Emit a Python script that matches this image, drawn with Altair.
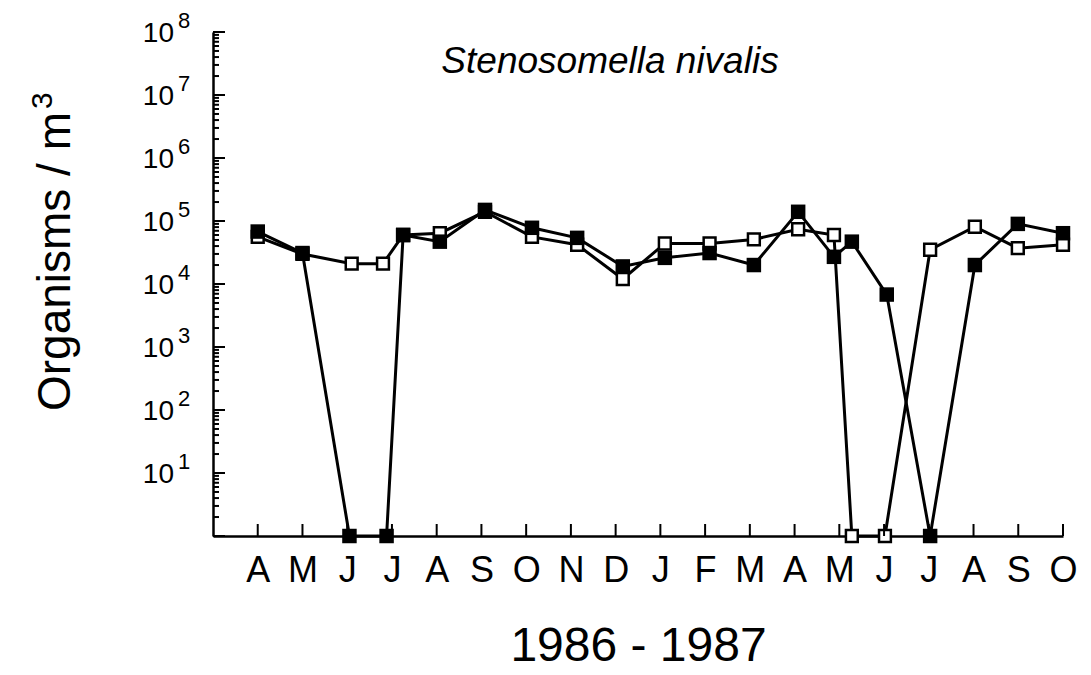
import altair as alt
import pandas as pd

FONT = "Liberation Sans"

# month tick labels (April 1986 .. October 1987), tick index 0..18
months = ["A", "M", "J", "J", "A", "S", "O", "N", "D", "J", "F", "M",
          "A", "M", "J", "J", "A", "S", "O"]

# filled squares series (month index, organisms / m3 ; 0 = none found)
filled_t = [0.0, 1.0, 2.05, 2.88, 3.25, 4.07, 5.08, 6.13, 7.14, 8.16, 9.1,
            10.1, 11.09, 12.08, 12.88, 13.28, 14.06, 15.03, 16.03, 16.99, 18.0]
filled_n = [68000, 31000, 0, 0, 60000, 47000, 150000, 78000, 54000, 19000, 26000,
            31000, 20000, 140000, 27000, 47000, 6800, 0, 20000, 90000, 64000]

# open squares series
open_t = [0.0, 1.0, 2.1, 2.8, 3.25, 4.07, 5.08, 6.13, 7.14, 8.16, 9.1,
          10.1, 11.09, 12.08, 12.88, 13.28, 14.02, 15.03, 16.03, 16.99, 18.0]
open_n = [56000, 30000, 21000, 21000, 60000, 64000, 140000, 56000, 42000, 12000, 44000,
          44000, 51000, 74000, 60000, 0, 0, 35000, 81000, 37000, 42000]

exponents = [1, 2, 3, 4, 5, 6, 7, 8]
superscripts = ["1", "2", "3", "4", "5", "6", "7", "8"]

df_f = pd.DataFrame({"t": filled_t, "n": filled_n})
df_o = pd.DataFrame({"t": open_t, "n": open_n})

# axis tick structure
major_ticks = [10 ** e for e in range(0, 9)]
minor_ticks = [m * 10 ** e for e in range(0, 8) for m in range(2, 10)]
df_major = pd.DataFrame({"v": major_ticks})
df_minor = pd.DataFrame({"v": minor_ticks})
df_xt = pd.DataFrame({"t": list(range(len(months)))})
df_lab = pd.DataFrame({"v": [10 ** e for e in exponents], "s": superscripts})

label_expr = "[" + ",".join("'" + m + "'" for m in months) + "][round(datum.value)]"

x_enc = alt.X(
    "t:Q",
    scale=alt.Scale(domain=[-1, 18], nice=False, zero=False),
    axis=alt.Axis(
        values=list(range(len(months))), labelExpr=label_expr, ticks=False, grid=False,
        domainColor="black", domainWidth=2.5, labelFont=FONT, labelFontSize=36,
        labelColor="black", labelPadding=17, labelFlush=False, labelOverlap=False,
        title="1986 - 1987", titleFont=FONT, titleFontSize=48, titleFontWeight="normal",
        titleColor="black", titlePadding=34,
    ),
)
y_enc = alt.Y(
    "v:Q",
    scale=alt.Scale(type="log", domain=[1, 1e8], nice=False),
    axis=alt.Axis(labels=False, ticks=False, grid=False, title=None,
                  domainColor="black", domainWidth=2.5),
)

def series(df):
    return alt.Chart(df).transform_calculate(v="max(datum.n, 1)")

line_o = series(df_o).mark_line(color="black", strokeWidth=3).encode(x=x_enc, y=y_enc)
line_f = series(df_f).mark_line(color="black", strokeWidth=3).encode(x=x_enc, y=y_enc)
pts_o = series(df_o).mark_point(shape="square", filled=True, fill="white", stroke="black",
                                strokeWidth=2.5, size=140, opacity=1).encode(x=x_enc, y=y_enc)
pts_f = series(df_f).mark_point(shape="square", filled=True, color="black",
                                size=210, opacity=1).encode(x=x_enc, y=y_enc)

ymaj = alt.Chart(df_major).mark_rule(color="black", strokeWidth=2).encode(
    y=y_enc, x=alt.value(0), x2=alt.value(12))
ymin = alt.Chart(df_minor).mark_rule(color="black", strokeWidth=2).encode(
    y=y_enc, x=alt.value(0), x2=alt.value(6))
xt = alt.Chart(df_xt).mark_rule(color="black", strokeWidth=2).encode(
    x=x_enc, y=alt.value(504), y2=alt.value(492))

lab10 = alt.Chart(df_lab).mark_text(
    align="right", baseline="middle", dy=2, font=FONT, fontSize=28, color="black"
).encode(y=y_enc, x=alt.value(-39), text=alt.value("10"))
labexp = alt.Chart(df_lab).mark_text(
    align="left", baseline="middle", dy=-11, font=FONT, fontSize=22, color="black"
).encode(y=y_enc, x=alt.value(-35), text="s:N")

one = alt.Data(values=[{"a": 1}])
species = alt.Chart(one).mark_text(
    align="center", baseline="middle", font=FONT, fontSize=37, fontStyle="italic", color="black"
).encode(x=alt.value(397), y=alt.value(30), text=alt.value("Stenosomella nivalis"))
ytitle = alt.Chart(one).mark_text(
    align="right", baseline="alphabetic", angle=270, font=FONT, fontSize=46, color="black"
).encode(x=alt.value(-143), y=alt.value(80), text=alt.value("Organisms / m"))
ysup = alt.Chart(one).mark_text(
    align="left", baseline="alphabetic", angle=270, font=FONT, fontSize=30, color="black"
).encode(x=alt.value(-161), y=alt.value(77), text=alt.value("3"))

chart = alt.layer(
    line_o, line_f, pts_o, pts_f, ymaj, ymin, xt, lab10, labexp, species, ytitle, ysup
).properties(
    width=850, height=504, autosize="none",
    padding={"left": 213, "top": 32, "right": 28, "bottom": 139},
    background="white",
).configure_view(stroke=None)

chart.save("out.html", embed_options={"renderer": "svg", "actions": False})
